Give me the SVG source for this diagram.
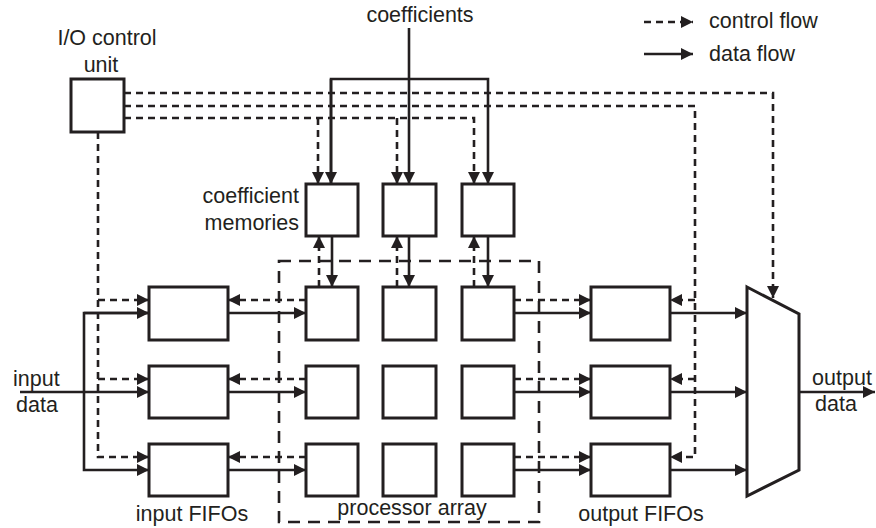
<svg xmlns="http://www.w3.org/2000/svg" width="876" height="528" viewBox="0 0 876 528">
  <style>
    .box { fill: #fff; stroke: #231f20; stroke-width: 3; }
    .data { fill: none; stroke: #231f20; stroke-width: 2.6; }
    .ctrl { fill: none; stroke: #231f20; stroke-width: 2.6; stroke-dasharray: 7 5; }
    .frame { fill: none; stroke: #231f20; stroke-width: 2.6; stroke-dasharray: 12 8; }
    text { font-family: "Liberation Sans", Arial, Helvetica, sans-serif; font-size: 21.5px; fill: #231f20; }
  </style>
  <defs>
    <marker id="arrow" markerUnits="userSpaceOnUse" markerWidth="13" markerHeight="13" refX="12" refY="6" orient="auto">
      <path d="M0,0 L12,6 L0,12 z" fill="#231f20"/>
    </marker>
  </defs>

  <rect width="876" height="528" fill="#fff"/>

  <!-- legend -->
  <g id="legend">
    <path class="ctrl" d="M644,22 H693" stroke-dasharray="6 4" marker-end="url(#arrow)"/>
    <text x="709" y="28">control flow</text>
    <path class="data" d="M644,54 H693" marker-end="url(#arrow)"/>
    <text x="709" y="61">data flow</text>
  </g>

  <!-- processor array boundary -->
  <g id="processor-array">
    <rect class="frame" x="279" y="261" width="260" height="261"/>
    <text x="412" y="515" text-anchor="middle">processor array</text>
  </g>

  <!-- connectors -->
  <g id="connectors">
    <!-- coefficient distribution -->
    <path class="data" d="M409,28 V184" marker-end="url(#arrow)"/>
    <path class="data" d="M331,184 V79 H488 V184" marker-end="url(#arrow)"/>
    <path class="data" d="M331,79 V184" marker-end="url(#arrow)"/>

    <!-- I/O control unit outputs -->
    <path class="ctrl" d="M124,93 H773 V298" marker-end="url(#arrow)"/>
    <path class="ctrl" d="M124,106 H695 V457 H670" marker-end="url(#arrow)"/>
    <path class="ctrl" d="M695,300 H670" marker-end="url(#arrow)"/>
    <path class="ctrl" d="M695,379 H670" marker-end="url(#arrow)"/>
    <path class="ctrl" d="M124,118 H474 V184" marker-end="url(#arrow)"/>
    <path class="ctrl" d="M318,118 V184" marker-end="url(#arrow)"/>
    <path class="ctrl" d="M397,118 V184" marker-end="url(#arrow)"/>
    <path class="ctrl" d="M98,132 V457 H149" marker-end="url(#arrow)"/>
    <path class="ctrl" d="M98,300 H149" marker-end="url(#arrow)"/>
    <path class="ctrl" d="M98,379 H149" marker-end="url(#arrow)"/>

    <!-- coefficient memories to first processor row -->
    <path class="data" d="M332,236 V287" marker-end="url(#arrow)"/>
    <path class="data" d="M409,236 V287" marker-end="url(#arrow)"/>
    <path class="data" d="M488,236 V287" marker-end="url(#arrow)"/>
    <path class="ctrl" d="M319,287 V236" marker-end="url(#arrow)"/>
    <path class="ctrl" d="M397,287 V236" marker-end="url(#arrow)"/>
    <path class="ctrl" d="M474,287 V236" marker-end="url(#arrow)"/>

    <!-- input data distribution -->
    <path class="data" d="M20,392 H149" marker-end="url(#arrow)"/>
    <path class="data" d="M149,313 H84 V470 H149" marker-end="url(#arrow)"/>
    <path class="data" d="M84,313 H149" marker-end="url(#arrow)"/>

    <!-- row 1 -->
    <path class="data" d="M228,313 H306" marker-end="url(#arrow)"/>
    <path class="ctrl" d="M306,300 H228" marker-end="url(#arrow)"/>
    <path class="data" d="M514,313 H591" marker-end="url(#arrow)"/>
    <path class="ctrl" d="M514,300 H591" marker-end="url(#arrow)"/>
    <path class="data" d="M670,313 H747" marker-end="url(#arrow)"/>
    <!-- row 2 -->
    <path class="data" d="M228,392 H306" marker-end="url(#arrow)"/>
    <path class="ctrl" d="M306,379 H228" marker-end="url(#arrow)"/>
    <path class="data" d="M514,392 H591" marker-end="url(#arrow)"/>
    <path class="ctrl" d="M514,379 H591" marker-end="url(#arrow)"/>
    <path class="data" d="M670,392 H747" marker-end="url(#arrow)"/>
    <!-- row 3 -->
    <path class="data" d="M228,470 H306" marker-end="url(#arrow)"/>
    <path class="ctrl" d="M306,457 H228" marker-end="url(#arrow)"/>
    <path class="data" d="M514,470 H591" marker-end="url(#arrow)"/>
    <path class="ctrl" d="M514,457 H591" marker-end="url(#arrow)"/>
    <path class="data" d="M670,470 H747" marker-end="url(#arrow)"/>

    <!-- output data -->
    <path class="data" d="M799,392 H875" marker-end="url(#arrow)"/>
  </g>

  <!-- I/O control unit -->
  <g id="io-control">
    <rect class="box" x="71" y="79" width="53" height="53"/>
    <text x="107" y="45" text-anchor="middle">I/O control</text>
    <text x="101" y="72" text-anchor="middle">unit</text>
  </g>

  <g id="coefficients-label">
    <text x="420" y="22" text-anchor="middle">coefficients</text>
  </g>

  <!-- coefficient memories -->
  <g id="coef-mem">
    <text x="299" y="203" text-anchor="end">coefficient</text>
    <text x="299" y="230" text-anchor="end">memories</text>
    <rect id="coef-mem-1" class="box" x="306" y="184" width="52" height="52"/>
    <rect id="coef-mem-2" class="box" x="383" y="184" width="53" height="52"/>
    <rect id="coef-mem-3" class="box" x="462" y="184" width="52" height="52"/>
  </g>

  <!-- processing elements -->
  <g id="pe-1-1"><rect class="box" x="306" y="287" width="52" height="53"/></g>
  <g id="pe-1-2"><rect class="box" x="383" y="287" width="53" height="53"/></g>
  <g id="pe-1-3"><rect class="box" x="462" y="287" width="52" height="53"/></g>
  <g id="pe-2-1"><rect class="box" x="306" y="366" width="52" height="52"/></g>
  <g id="pe-2-2"><rect class="box" x="383" y="366" width="53" height="52"/></g>
  <g id="pe-2-3"><rect class="box" x="462" y="366" width="52" height="52"/></g>
  <g id="pe-3-1"><rect class="box" x="306" y="444" width="52" height="52"/></g>
  <g id="pe-3-2"><rect class="box" x="383" y="444" width="53" height="52"/></g>
  <g id="pe-3-3"><rect class="box" x="462" y="444" width="52" height="52"/></g>

  <!-- input FIFOs -->
  <g id="input-fifos">
    <rect id="in-fifo-1" class="box" x="149" y="287" width="79" height="53"/>
    <rect id="in-fifo-2" class="box" x="149" y="366" width="79" height="52"/>
    <rect id="in-fifo-3" class="box" x="149" y="444" width="79" height="52"/>
    <text x="192" y="521" text-anchor="middle">input FIFOs</text>
  </g>

  <!-- output FIFOs -->
  <g id="output-fifos">
    <rect id="out-fifo-1" class="box" x="591" y="287" width="79" height="53"/>
    <rect id="out-fifo-2" class="box" x="591" y="366" width="79" height="52"/>
    <rect id="out-fifo-3" class="box" x="591" y="444" width="79" height="52"/>
    <text x="641" y="521" text-anchor="middle">output FIFOs</text>
  </g>

  <!-- output multiplexer -->
  <g id="mux">
    <polygon class="box" points="747,287 799,314 799,470 747,496"/>
  </g>

  <g id="io-labels">
    <text x="13" y="386">input</text>
    <text x="16" y="412">data</text>
    <text x="842" y="385" text-anchor="middle">output</text>
    <text x="836" y="411" text-anchor="middle">data</text>
  </g>
</svg>
